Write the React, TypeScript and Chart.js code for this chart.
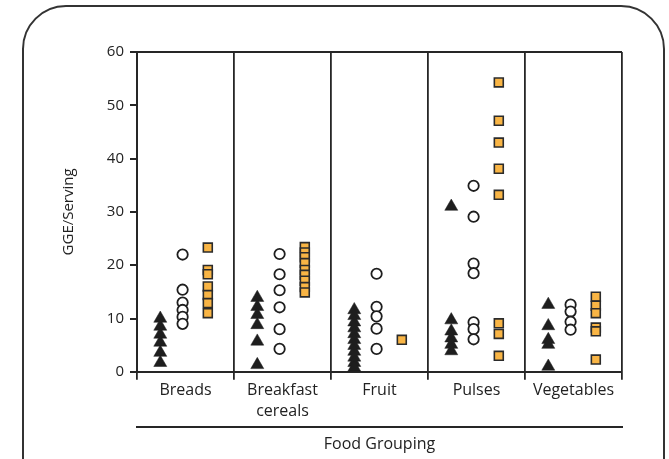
import React, { useEffect, useRef } from 'react';
import { Chart, registerables } from 'chart.js';
Chart.register(...registerables);

// Categories (tick labels, multi-line where the reference wraps)
const categories: (string | string[])[] = ['Breads', ['Breakfast', 'cereals'], 'Fruit', 'Pulses', 'Vegetables'];
const yTicks = [0, 10, 20, 30, 40, 50, 60];

// Series 1: filled triangles, per category
const triBreads = [10, 8.5, 7, 5.5, 3.6, 1.7];
const triCereals = [13.9, 12.2, 10.7, 8.8, 5.7, 1.3];
const triFruit = [11.6, 10.5, 9.3, 8.2, 7.1, 6.0, 4.9, 3.8, 2.7, 1.7, 0.8];
const triPulses = [31, 9.7, 7.6, 6.3, 5.1, 3.9];
const triVeg = [12.6, 8.6, 6.0, 5.1, 1.0];

// Series 2: open circles, per category
const cirBreads = [22, 15.4, 13, 11.6, 10.3, 9];
const cirCereals = [22.1, 18.3, 15.3, 12.1, 8.0, 4.3];
const cirFruit = [18.4, 12.2, 10.4, 8.1, 4.3];
const cirPulses = [34.9, 29.1, 20.3, 18.5, 9.3, 8.0, 6.1];
const cirVeg = [12.6, 11.3, 9.4, 7.9];

// Series 3: orange squares, per category
const sqBreads = [23.3, 19.1, 18.3, 16, 14.4, 12.9, 11];
const sqCereals = [23.4, 22.4, 21.5, 20.4, 19.1, 18.2, 17.1, 15.9, 14.9];
const sqFruit = [6.0];
const sqPulses = [54.3, 47.1, 43.0, 38.1, 33.2, 9.1, 7.1, 3.0];
const sqVeg = [14.1, 12.4, 11.0, 8.3, 7.6, 2.3];

const triSeries = [triBreads, triCereals, triFruit, triPulses, triVeg];
const cirSeries = [cirBreads, cirCereals, cirFruit, cirPulses, cirVeg];
const sqSeries = [sqBreads, sqCereals, sqFruit, sqPulses, sqVeg];

// horizontal placement of each series within its category (fraction of a category)
const TRI_OFFSET = -0.26;
const CIR_OFFSET = -0.03;
const SQ_OFFSET = 0.23;

const FONT = '"Open Sans", sans-serif';
const INK = '#262626';

function toPoints(series: number[][], off: number) {
  const pts: { x: number; y: number }[] = [];
  series.forEach((vals, i) => vals.forEach((v) => pts.push({ x: i + off, y: v })));
  return pts;
}

export default function App() {
  const ref = useRef<HTMLCanvasElement>(null);
  useEffect(() => {
    if (!ref.current) return;
    const chart = new Chart(ref.current, {
      type: 'scatter',
      data: {
        labels: categories as any,
        datasets: [
          {
            label: 'triangles',
            data: toPoints(triSeries, TRI_OFFSET),
            xAxisID: 'xs',
            yAxisID: 'y',
            pointStyle: 'triangle',
            pointRadius: 7.5,
            backgroundColor: '#1e1e1e',
            borderColor: '#1e1e1e',
            borderWidth: 0.5,
          },
          {
            label: 'circles',
            data: toPoints(cirSeries, CIR_OFFSET),
            xAxisID: 'xs',
            yAxisID: 'y',
            pointStyle: 'circle',
            pointRadius: 5.2,
            backgroundColor: '#ffffff',
            borderColor: '#1e1e1e',
            borderWidth: 1.8,
          },
          {
            label: 'squares',
            data: toPoints(sqSeries, SQ_OFFSET),
            xAxisID: 'xs',
            yAxisID: 'y',
            pointStyle: 'rect',
            pointRadius: 6.3,
            backgroundColor: '#f9b545',
            borderColor: '#2b2b2b',
            borderWidth: 1.6,
          },
        ],
      },
      options: {
        animation: false,
        responsive: false,
        maintainAspectRatio: false,
        events: [],
        layout: { padding: { left: 60, top: 52, right: 47, bottom: 5 } },
        plugins: { legend: { display: false }, tooltip: { enabled: false } },
        scales: {
          x: {
            type: 'category',
            position: 'bottom',
            weight: 0,
            offset: true,
            grid: { offset: true, color: INK, lineWidth: 1.8, tickLength: 8, drawTicks: true },
            border: { display: true, color: INK, width: 2 },
            ticks: {
              color: '#222',
              font: { family: FONT, size: 16, lineHeight: 1.3 },
              padding: 0,
              maxRotation: 0,
              autoSkip: false,
            },
            afterFit: (s: any) => {
              s.height = 55;
            },
          } as any,
          xs: {
            type: 'linear',
            position: 'bottom',
            weight: 1,
            min: -0.5,
            max: 4.5,
            ticks: { display: false },
            grid: { display: false, drawTicks: false },
            border: { display: true, color: INK, width: 2 },
            title: {
              display: true,
              text: 'Food Grouping',
              color: '#222',
              font: { family: FONT, size: 16, lineHeight: 1.2 },
              padding: { top: 8, bottom: 0 },
            },
          },
          y: {
            type: 'linear',
            min: 0,
            max: 60,
            afterBuildTicks: (s: any) => {
              s.ticks = yTicks.map((v) => ({ value: v }));
            },
            ticks: { color: '#222', font: { family: FONT, size: 15 }, padding: 6 },
            grid: {
              color: (c: any) => (c.tick && c.tick.value === 60 ? INK : 'rgba(0,0,0,0)'),
              tickColor: INK,
              lineWidth: 2,
              tickLength: 7,
            },
            border: { display: true, color: INK, width: 2 },
            title: {
              display: true,
              text: 'GGE/Serving',
              color: '#222',
              font: { family: FONT, size: 15, lineHeight: 1.2 },
              padding: { top: 0, bottom: 0 },
            },
            afterFit: (s: any) => {
              s.width = 77;
            },
          } as any,
        },
      },
    });
    return () => chart.destroy();
  }, []);

  return (
    <div
      style={{
        position: 'fixed',
        left: 0,
        top: 0,
        width: 669,
        height: 459,
        overflow: 'hidden',
        background: '#ffffff',
      }}
    >
      <div
        style={{
          position: 'absolute',
          left: 22,
          top: 5,
          width: 643,
          height: 540,
          border: '2px solid #333',
          borderRadius: 44,
          boxSizing: 'border-box',
        }}
      />
      <canvas ref={ref} width={669} height={459} style={{ position: 'absolute', left: 0, top: 0 }} />
    </div>
  );
}
